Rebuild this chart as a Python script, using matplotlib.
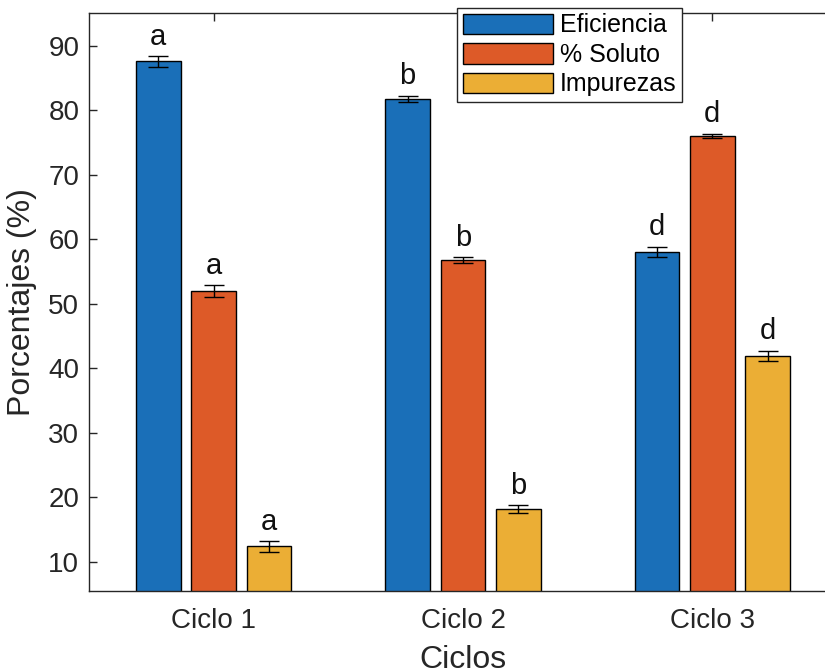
import numpy as np
import matplotlib
matplotlib.use("Agg")
import matplotlib.pyplot as plt

plt.rcParams['font.family'] = ['Liberation Sans', 'DejaVu Sans']

ciclos = ["Ciclo 1", "Ciclo 2", "Ciclo 3"]
series = ["Eficiencia", "% Soluto", "Impurezas"]
eficiencia = [87.6, 81.8, 58.1]
soluto = [52.0, 56.8, 76.1]
impurezas = [12.4, 18.2, 41.9]
err_eficiencia = [0.8, 0.5, 0.8]
err_soluto = [0.9, 0.4, 0.3]
err_impurezas = [0.8, 0.6, 0.8]
letras = [["a", "a", "a"], ["b", "b", "b"], ["d", "d", "d"]]

colores = ["#1a6fb8", "#dd5a28", "#ebae35"]
gris = "#262626"

fig = plt.figure(figsize=(8.25, 6.71), dpi=100)
ax = fig.add_axes([89/825, 80/671, 748/825, 578/671])

x = np.arange(1, 4)
ancho = 0.178
desp = 0.222
valores = [eficiencia, soluto, impurezas]
errores = [err_eficiencia, err_soluto, err_impurezas]

for i in range(3):
    pos = x + (i - 1) * desp
    ax.bar(pos, valores[i], ancho, color=colores[i], edgecolor="black",
           linewidth=1, label=series[i], zorder=2)
    ax.errorbar(pos, valores[i], yerr=errores[i], fmt="none", ecolor="black",
                elinewidth=1, capsize=7, capthick=1, zorder=3)
    for j in range(3):
        ax.annotate(letras[j][i], (pos[j], valores[i][j] + errores[i][j]),
                    xytext=(0, 4), textcoords="offset points",
                    ha="center", va="bottom", fontsize=21, color="#111111")

ax.set_xlim(0.5, 3.5)
ax.set_ylim(5.5, 95.1)
ax.set_xticks(x)
ax.set_xticklabels(ciclos)
ax.set_yticks(np.arange(10, 100, 10))
ax.tick_params(direction="in", length=6, width=1, colors=gris, labelsize=20,
               top=True, right=True)
ax.tick_params(axis="x", pad=12)
ax.tick_params(axis="y", pad=7)
for s in ax.spines.values():
    s.set_color(gris)
    s.set_linewidth(1)

ax.set_ylabel("Porcentajes (%)", fontsize=23, color=gris, labelpad=8)
ax.set_xlabel("Ciclos", fontsize=23, color=gris, labelpad=8)

leg = ax.legend(loc="upper left", bbox_to_anchor=(457/825, 1 - 8/671),
                bbox_transform=fig.transFigure, fontsize=18,
                handlelength=3.6, handleheight=0.9, handletextpad=0.3,
                labelspacing=0.22, borderpad=0.22, borderaxespad=0,
                frameon=True, fancybox=False, framealpha=1)
leg.get_frame().set_edgecolor(gris)
leg.get_frame().set_linewidth(1)

fig.savefig("out.png", dpi=100)
